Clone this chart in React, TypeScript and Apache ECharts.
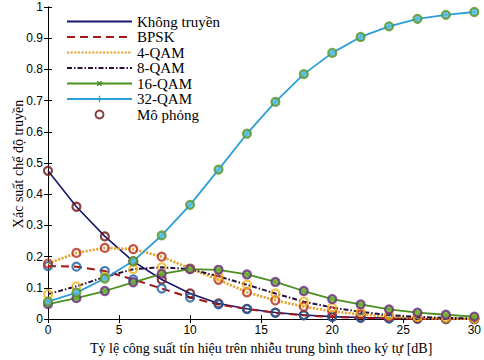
import React, { useEffect, useRef } from "react";
import * as echarts from "echarts";

const snr = [0, 2, 4, 6, 8, 10, 12, 14, 16, 18, 20, 22, 24, 26, 28, 30];
const khongTruyen = [0.475, 0.36, 0.265, 0.185, 0.127, 0.082, 0.05, 0.033, 0.021, 0.013, 0.008, 0.005, 0.003, 0.002, 0.001, 0.0];
const bpsk = [0.17, 0.168, 0.154, 0.127, 0.098, 0.069, 0.047, 0.032, 0.02, 0.012, 0.007, 0.004, 0.002, 0.001, 0.0, 0.0];
const qam4 = [0.178, 0.212, 0.228, 0.224, 0.2, 0.162, 0.126, 0.086, 0.06, 0.04, 0.025, 0.015, 0.008, 0.004, 0.002, 0.001];
const qam8 = [0.08, 0.105, 0.135, 0.16, 0.166, 0.16, 0.137, 0.11, 0.082, 0.056, 0.037, 0.023, 0.013, 0.007, 0.004, 0.002];
const qam16 = [0.048, 0.067, 0.09, 0.118, 0.145, 0.16, 0.158, 0.143, 0.119, 0.09, 0.064, 0.047, 0.031, 0.021, 0.014, 0.008];
const qam32 = [0.056, 0.085, 0.13, 0.186, 0.268, 0.366, 0.479, 0.594, 0.696, 0.785, 0.853, 0.904, 0.938, 0.962, 0.975, 0.984];

const seriesNames = ["Không truyền", "BPSK", "4-QAM", "8-QAM", "16-QAM", "32-QAM"];
const simName = "Mô phỏng";
const xTitle = "Tỷ lệ công suất tín hiệu trên nhiễu trung bình theo ký tự [dB]";
const yTitle = "Xác suất chế độ truyền";

const PLUS = "path://M4,0H6V4H10V6H6V10H4V6H0V4H4Z";

export default function App() {
  const ref = useRef<HTMLDivElement>(null);
  useEffect(() => {
    if (!ref.current) return;
    const chart = echarts.init(ref.current, undefined, { renderer: "svg" });
    const values = [khongTruyen, bpsk, qam4, qam8, qam16, qam32];
    const lineColors = ["#17176e", "#a51616", "#e4a532", "#26103c", "#4b8f1f", "#2c9fd6"];
    const simEdge = ["#6e1212", "#1f5fa3", "#b52a18", "#f2b320", "#6a2a84", "#5c9322"];
    const simFill = ["rgba(255,255,255,0)", "rgba(255,255,255,0)", "rgba(255,255,255,0)", "rgba(255,255,255,0)", "#6fb63a", "#5cc4ec"];
    const lineTypes: any[] = ["solid", [8, 5], [2.2, 1.4], [5, 2, 1.5, 2], "solid", "solid"];
    const lineWidths = [1.6, 2, 2.6, 2, 1.8, 1.8];
    const symbols = ["none", "none", "none", "none", PLUS, PLUS];
    const symbolRot = [0, 0, 0, 0, 45, 0];

    const series: any[] = [];
    values.forEach((v, i) => {
      series.push({
        type: "line",
        name: seriesNames[i],
        data: snr.map((x, k) => [x, v[k]]),
        symbol: symbols[i],
        symbolSize: 7,
        symbolRotate: symbolRot[i],
        showSymbol: symbols[i] !== "none",
        itemStyle: { color: lineColors[i] },
        lineStyle: { color: lineColors[i], width: lineWidths[i], type: lineTypes[i] },
        z: 2,
      });
    });
    values.forEach((v, i) => {
      series.push({
        type: "scatter",
        name: simName,
        data: snr.map((x, k) => [x, v[k]]),
        symbol: "circle",
        symbolSize: 8,
        itemStyle: { color: simFill[i], borderColor: simEdge[i], borderWidth: 2.2 },
        z: 3 + i,
      });
    });

    const axisCommon = {
      axisLine: { show: true, lineStyle: { color: "#000", width: 1 } },
      axisTick: { show: true, inside: true, length: 4, lineStyle: { color: "#000" } },
      splitLine: { show: false },
    };

    const legendData: any[] = seriesNames.map((n, i) =>
      symbols[i] === "none" ? { name: n, itemStyle: { opacity: 0 } } : { name: n }
    );
    legendData.push({ name: simName });

    chart.setOption({
      animation: false,
      backgroundColor: "#fff",
      grid: { left: 48, right: 7, top: 7, bottom: 38, containLabel: false },
      legend: {
        orient: "vertical",
        left: 61,
        top: 9,
        itemWidth: 65,
        itemHeight: 8,
        itemGap: 0.5,
        data: legendData,
        textStyle: { fontFamily: "Liberation Serif", fontSize: 15, color: "#000" },
      },
      graphic: [
        {
          type: "text",
          x: 18,
          y: 164,
          rotation: Math.PI / 2,
          style: {
            text: yTitle,
            align: "center",
            verticalAlign: "middle",
            fontFamily: "Liberation Serif",
            fontSize: 14,
            fill: "#000",
          },
        },
      ],
      xAxis: [
        {
          type: "value",
          min: 0,
          max: 30,
          interval: 5,
          ...axisCommon,
          axisLabel: { fontFamily: "Liberation Sans", fontSize: 12, color: "#000", margin: 5 },
          name: xTitle,
          nameLocation: "middle",
          nameGap: 19,
          nameTextStyle: { fontFamily: "Liberation Serif", fontSize: 14, color: "#000" },
        },
        {
          type: "value",
          position: "top",
          min: 0,
          max: 30,
          interval: 5,
          ...axisCommon,
          axisLabel: { show: false },
        },
      ],
      yAxis: [
        {
          type: "value",
          min: 0,
          max: 1,
          interval: 0.1,
          ...axisCommon,
          axisLabel: { fontFamily: "Liberation Sans", fontSize: 12, color: "#000", margin: 5 },
        },
        {
          type: "value",
          position: "right",
          min: 0,
          max: 1,
          interval: 0.1,
          ...axisCommon,
          axisLabel: { show: false },
        },
      ],
      series,
    });
    return () => chart.dispose();
  }, []);
  return <div ref={ref} style={{ width: 484, height: 360, position: "absolute", left: 0, top: 0 }} />;
}
